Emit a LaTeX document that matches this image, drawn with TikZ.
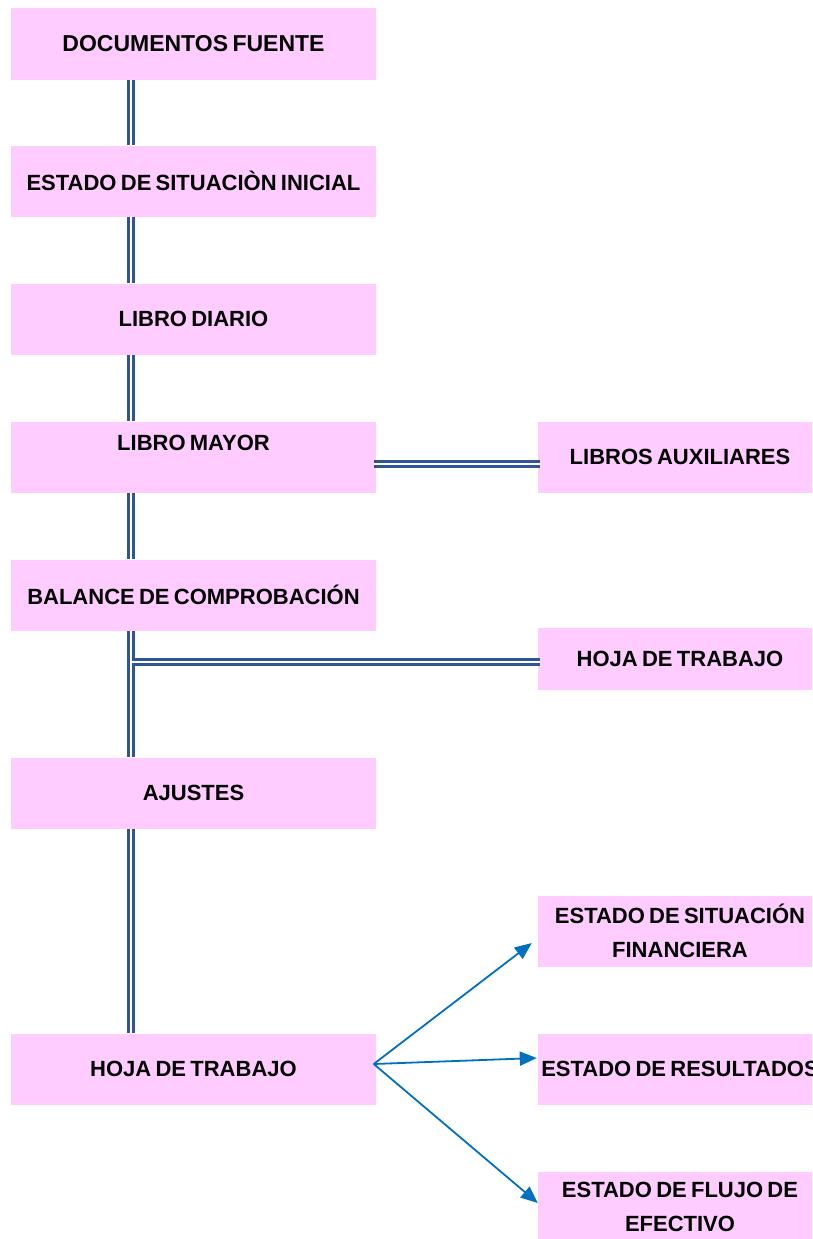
\documentclass[tikz,border=0pt]{standalone}
\usepackage{fontspec}
\setmainfont{Liberation Sans}[WordSpace=0.7]
\usetikzlibrary{arrows.meta}
\definecolor{boxpink}{RGB}{255,204,255}
\definecolor{dblue}{RGB}{47,85,151}
\definecolor{ablue}{RGB}{0,112,192}
\begin{document}
\begin{tikzpicture}[x=1pt,y=-1pt,
  basebox/.style={fill=boxpink, inner sep=0pt, font=\fontsize{22}{34}\selectfont\bfseries, align=center},
  lbox/.style={basebox, minimum width=365pt, minimum height=71pt},
  rbox/.style={basebox, minimum width=284pt, minimum height=71pt},
  dbl/.style={draw=dblue, double=white, double distance=2.3pt, line width=2.7pt},
  arr/.style={draw=ablue, line width=1.8pt, -{Triangle[length=17pt,width=14pt]}}]
\clip (0,0) rectangle (812,1239);
\fill[white] (0,0) rectangle (812,1239);
% left column
\node[lbox] (n1) at (193.5,44) {\fontsize{23}{34}\selectfont DOCUMENTOS FUENTE};
\node[lbox] (n2) at (193.5,181) {ESTADO DE SITUACIÒN INICIAL};
\node[lbox] (n3) at (193.5,319) {LIBRO DIARIO};
\node[lbox, label={[yshift=14pt, font=\fontsize{22}{34}\selectfont\bfseries]center:LIBRO MAYOR}] (n4) at (193.5,457) {};
\node[lbox] (n5) at (193.5,595) {BALANCE DE COMPROBACIÓN};
\node[lbox] (n6) at (193.5,793) {AJUSTES};
\node[lbox] (n7) at (193.5,1069) {HOJA DE TRABAJO};
% right column
\node[rbox] (a1) at (680,457) {LIBROS AUXILIARES};
\node[rbox, minimum height=62pt] (a2) at (680,659) {HOJA DE TRABAJO};
\node[rbox] (a3) at (680,931) {ESTADO DE SITUACIÓN\\FINANCIERA};
\node[rbox] (a4) at (680,1069) {ESTADO DE RESULTADOS};
\node[rbox] (a5) at (680,1207) {ESTADO DE FLUJO DE\\EFECTIVO};
% helper coordinates
\coordinate (vx) at (131,0);
\coordinate (hy) at (0,464);
\coordinate (j) at (132.3,661.7);
% vertical double connectors
\draw[dbl] (n1.south -| vx) -- (n2.north -| vx);
\draw[dbl] (n2.south -| vx) -- (n3.north -| vx);
\draw[dbl] (n3.south -| vx) -- (n4.north -| vx);
\draw[dbl] (n4.south -| vx) -- (n5.north -| vx);
\draw[dbl] (n5.south -| vx) -- (n6.north -| vx);
\draw[dbl] (n6.south -| vx) -- (n7.north -| vx);
% horizontal double connectors
\draw[dbl] ([xshift=-2pt]n4.east |- hy) -- ([xshift=2pt]a1.west |- hy);
\draw[dbl] (j) -- ([xshift=2pt]a2.west |- j);
% arrows
\coordinate (hub) at ([shift={(-2.5,-5)}]n7.east);
\draw[arr] (hub) -- ([shift={(-6,12)}]a3.west);
\draw[arr] (hub) -- ([shift={(-1,-11)}]a4.west);
\draw[arr] (hub) -- ([shift={(0,-4)}]a5.west);
\end{tikzpicture}
\end{document}
